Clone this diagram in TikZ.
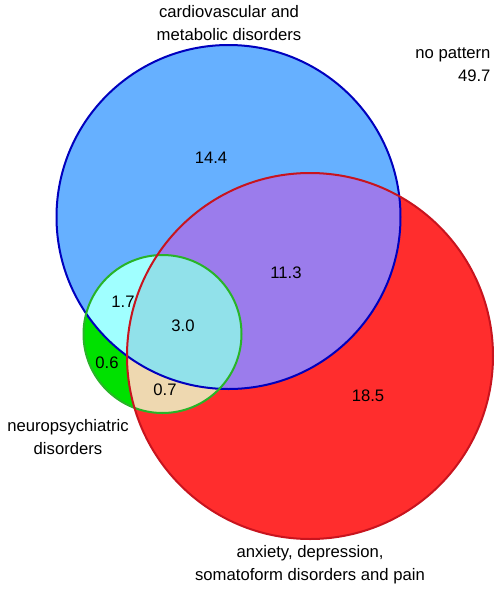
\documentclass[tikz,border=0pt]{standalone}
\usepackage{fontspec}
\setmainfont{Liberation Sans}

\definecolor{cardfill}{RGB}{102,176,255}
\definecolor{cardline}{RGB}{0,0,190}
\definecolor{anxfill}{RGB}{255,45,45}
\definecolor{anxline}{RGB}{200,20,30}
\definecolor{neurofill}{RGB}{0,225,0}
\definecolor{neuroline}{RGB}{40,180,40}
\definecolor{cardanx}{RGB}{155,124,236}
\definecolor{cardneuro}{RGB}{160,255,255}
\definecolor{anxneuro}{RGB}{238,216,176}
\definecolor{allthree}{RGB}{145,225,234}

\tikzset{every picture/.style={line width=0.75pt}}
\tikzset{vlabel/.style={inner sep=0pt,align=center,font=\fontsize{12.5}{17.25}\selectfont}}

\begin{document}
\begin{tikzpicture}[x=0.75pt,y=0.75pt,yscale=-1,xscale=1]
\useasboundingbox (0,0) rectangle (498,590);

\coordinate (cardio) at (228.5,217);
\coordinate (anx) at (310,356);
\coordinate (neuro) at (162.5,334);

%Shape: Circle fills
\fill [cardfill] (cardio) circle (172);
\fill [anxfill] (anx) circle (183);
\begin{scope}
\clip (anx) circle (183);
\fill [cardanx] (cardio) circle (172);
\end{scope}
\fill [neurofill] (neuro) circle (79);
\begin{scope}
\clip (neuro) circle (79);
\fill [cardneuro] (cardio) circle (172);
\clip (anx) circle (183);
\fill [anxneuro] (anx) circle (183);
\fill [allthree] (cardio) circle (172);
\end{scope}

%Shape: Circle outlines
\draw [cardline,line width=1.5] (cardio) circle (172);
\draw [neuroline,line width=1.5] (neuro) circle (79);
\draw [anxline,line width=1.5] (anx) circle (183);

% Text Node
\node [vlabel] (lblcardio) at (229,23.5) {cardiovascular and\\metabolic disorders};
% Text Node
\node [vlabel,anchor=east,align=right] (lblnone) at (491,65) {no pattern\\49.7};
% Text Node
\node [vlabel] (lblneuro) at (68,437.5) {neuropsychiatric\\disorders};
% Text Node
\node [vlabel] (lblanx) at (310,565) {anxiety, depression,\\somatoform disorders and pain};
% Text Node
\node [vlabel] (ncardio) at (211,158) {14.4};
% Text Node
\node [vlabel] (ncardanx) at (286,273) {11.3};
% Text Node
\node [vlabel] (nanx) at (368,396) {18.5};
% Text Node
\node [vlabel] (ncardneuro) at (123,302) {1.7};
% Text Node
\node [vlabel] (nall) at (183,326) {3.0};
% Text Node
\node [vlabel] (nneuro) at (107,363) {0.6};
% Text Node
\node [vlabel] (nanxneuro) at (165,390) {0.7};

\end{tikzpicture}
\end{document}
